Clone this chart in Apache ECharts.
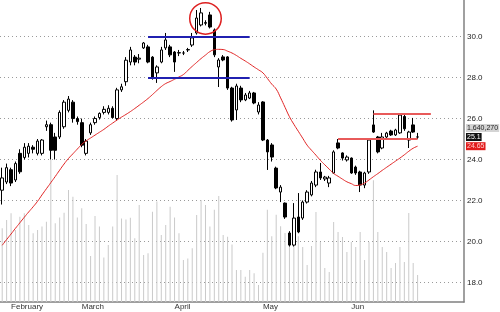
<!DOCTYPE html>
<html><head><meta charset="utf-8">
<script src="https://cdn.jsdelivr.net/npm/echarts@6/dist/echarts.min.js"></script>
<style>html,body{margin:0;padding:0;background:#fff}#c{width:500px;height:312px}</style>
</head><body><div id="c"></div>
<script>
// ---- data ----
const opens=[22.5,22.9,23.5,23.0,24.3,24.1,24.3,24.6,24.3,24.3,25.6,25.7,25.1,25.1,25.6,26.4,26.8,26.0,25.8,24.3,25.3,25.8,26.05,26.3,26.3,26.5,26.0,27.4,27.8,
28.76,29.0,28.9,29.45,29.5,29.0,28.23,28.76,29.45,29.5,29.25,29.2,29.2,29.35,29.59,30.18,30.57,30.65,31.06,30.33,28.52,29.01,29.01,27.49,26.42,27.49,26.91,27.0,27.25,26.32,26.81,24.95,24.71,23.58,22.41,21.87,20.41,19.82,21.19,21.14,21.92,22.27,22.75,23.39,23.05,22.85,23.34,24.81,24.32,23.98,24.07,23.63,23.39,22.75,23.39,25.69,25.1,24.56,25.1,25.39,25.2,25.3,26.1,24.95,25.69,25.1];
const closes=[23.1,23.6,22.85,23.8,23.4,24.6,24.65,24.5,24.9,24.95,25.7,24.45,24.45,26.3,26.8,26.95,26.0,25.85,24.7,24.9,25.7,26.0,26.25,26.45,26.5,26.05,27.4,27.55,28.85,
29.35,28.76,28.95,29.69,28.76,28.03,28.52,29.35,29.84,29.11,28.76,29.22,29.2,29.37,29.94,30.91,31.16,30.69,30.47,29.11,28.86,28.86,27.49,25.93,27.59,26.91,27.15,27.25,26.76,26.66,24.95,24.37,24.12,22.61,22.65,21.19,19.82,21.14,20.46,21.92,22.41,22.85,23.39,23.1,23.14,23.1,24.37,24.56,24.07,24.12,23.34,23.34,22.75,23.34,24.95,25.34,24.37,25.1,25.29,25.2,25.44,26.17,25.5,25.34,25.34,25.1];
const lows=[21.8,22.8,22.7,22.9,23.3,24.0,24.1,24.3,24.2,24.2,25.4,24.0,24.0,25.0,25.5,26.3,25.8,25.7,24.6,24.2,25.2,25.7,25.95,26.2,26.2,26.0,25.9,27.3,27.6,
28.6,28.6,28.7,29.4,28.7,27.9,27.74,28.7,29.35,29.0,28.28,29.05,29.1,29.25,29.5,30.1,30.5,30.55,30.4,29.0,27.54,28.8,27.4,25.85,25.93,26.8,26.85,26.95,26.7,26.2,24.9,23.49,23.9,22.55,21.92,21.1,19.75,19.75,20.4,21.05,21.85,22.2,22.65,23.0,22.95,22.65,23.3,24.5,23.95,23.9,23.3,23.25,22.41,22.6,23.3,25.3,24.3,24.5,25.05,25.15,25.15,25.25,25.4,24.56,25.3,25.0];
const highs=[23.6,23.8,23.6,23.9,24.5,24.8,24.8,24.7,25.0,25.0,25.9,25.8,25.3,26.4,26.9,27.1,26.9,26.1,26.0,25.0,25.8,26.1,26.3,26.6,26.65,26.6,27.5,27.7,29.0,
29.5,29.1,29.15,29.74,29.6,29.05,28.6,29.5,30.18,29.6,29.3,29.35,29.3,29.45,30.18,31.3,31.4,30.8,31.21,30.4,28.95,29.1,29.05,27.55,27.7,27.6,27.25,27.35,27.3,26.8,26.85,25.0,24.8,23.65,22.75,21.9,20.5,21.87,22.36,22.0,22.5,22.95,23.5,23.83,23.2,23.2,24.45,25.0,24.35,24.2,24.1,23.7,23.45,23.4,25.0,26.4,25.15,25.3,25.35,25.45,25.5,26.25,26.2,25.4,26.03,25.3];
const movingAvg=[19.81,20.09,20.36,20.64,20.91,21.18,21.44,21.69,21.96,22.27,
22.57,22.87,23.17,23.48,23.78,24.05,24.28,24.51,24.74,24.91,
25.05,25.19,25.33,25.47,25.63,25.78,25.93,26.07,26.20,26.34,
26.49,26.65,26.81,26.98,27.17,27.37,27.56,27.71,27.81,27.92,
28.03,28.15,28.35,28.55,28.74,28.93,29.10,29.27,29.36,29.38,
29.37,29.29,29.20,29.08,28.94,28.81,28.67,28.52,28.38,28.23,
27.96,27.68,27.44,27.01,26.55,26.09,25.72,25.38,25.04,24.70,
24.45,24.21,23.96,23.74,23.53,23.32,23.18,23.04,22.91,22.82,
22.73,22.76,22.85,23.00,23.16,23.31,23.47,23.62,23.77,23.92,
24.07,24.23,24.40,24.55,24.65];
// volume in millions of shares
const volumes=[4.48,4.98,5.39,4.37,5.18,5.39,4.68,4.17,4.37,4.58,4.88,8.63,4.78,5.14,5.43,6.80,6.40,5.14,5.69,4.74,
2.80,5.22,4.58,2.70,3.46,4.58,7.72,5.08,5.02,5.12,3.87,5.89,2.86,2.96,5.49,6.10,4.07,4.68,5.79,5.14,
4.17,2.55,2.65,3.26,5.29,6.20,5.89,4.58,5.60,6.44,4.07,3.97,3.50,1.94,1.94,1.54,1.94,1.74,1.03,3.00,
5.60,4.00,5.30,4.60,4.20,3.90,4.60,4.00,3.34,2.25,3.40,5.47,3.65,2.07,1.82,4.86,4.25,3.95,3.04,3.65,
3.34,4.25,2.55,3.65,7.40,4.25,3.34,3.04,2.07,2.37,3.34,2.43,5.41,2.37,1.64027];
const monthLabels=['February','March','April','May','Jun'];
const monthIdx=[2,18,39,59,79];
// annotation levels: [fromIndex, toIndex, price]
const blueLevels=[[33,56,30.0],[33,56,28.0]];
const redLevels=[[84,97,26.21],[76,94,25.0]];
const circleAt=[46,30.89];

const slotCount=105;
const categories=[];for(let i=0;i<slotCount;i++)categories.push(String(i));
const candle=opens.map((o,i)=>[o,closes[i],lows[i],highs[i]]);
const isMonth=i=>monthIdx.indexOf(i)>=0;
const FONT='Liberation Sans';

const mk=(lv,color)=>lv.map(l=>[{coord:[categories[l[0]],l[2]],lineStyle:{color:color,width:2,type:'solid'}},{coord:[categories[l[1]],l[2]]}]);

const chart=echarts.init(document.getElementById('c'));
chart.setOption({
  animation:false,
  grid:{left:0,right:36,top:0,bottom:10},
  xAxis:{type:'category',data:categories,boundaryGap:true,
    axisLine:{lineStyle:{color:'#808080',width:1.5}},
    axisTick:{alignWithLabel:true,interval:(i)=>isMonth(i),length:3,lineStyle:{color:'#333'}},
    axisLabel:{interval:(i)=>isMonth(i),formatter:(v,i)=>{const k=monthIdx.indexOf(i);return k>=0?monthLabels[k]:'';},
      align:'left',margin:1,fontSize:8,color:'#333',fontFamily:FONT},
    splitLine:{show:false}},
  yAxis:[{type:'value',position:'right',min:17.04,max:31.79,splitNumber:7,
    axisLine:{show:true,lineStyle:{color:'#808080',width:1.5}},
    axisTick:{show:false},
    axisLabel:{showMinLabel:false,showMaxLabel:false,formatter:v=>v.toFixed(1),fontSize:8,color:'#222',margin:3,fontFamily:FONT},
    splitLine:{show:true,showMinLine:false,showMaxLine:false,lineStyle:{color:'#9a9a9a',type:[1,3],width:1}}},
   {type:'value',min:0,max:18.35,show:false}],
  series:[
    {type:'bar',yAxisIndex:1,data:volumes,barWidth:1,itemStyle:{color:'#cacaca'},silent:true,z:1},
    {type:'candlestick',data:candle,barWidth:3,
     itemStyle:{color:'#ffffff',color0:'#000000',borderColor:'#000000',borderColor0:'#000000',borderWidth:1},z:3,
     markLine:{symbol:['none','none'],silent:true,label:{show:false},animation:false,
       data:mk(blueLevels,'#2020b0').concat(mk(redLevels,'#e85a5a'))}},
    {type:'line',data:movingAvg,smooth:true,symbol:'none',lineStyle:{color:'#e02424',width:1},z:4}
  ]
});

const px=(i,v)=>chart.convertToPixel({seriesIndex:1},[categories[i],v]);
const last=closes.length-1;
const c0=px(circleAt[0],circleAt[1]);
const c1=px(circleAt[0],circleAt[1]+0.77);
const yClose=px(last,closes[last])[1];
const yMa=px(last,movingAvg[last])[1];
const axisX=500-36;
const volText=Math.round(volumes[last]*1e6).toLocaleString('en-US');
const tag=(text,y,bg,fg)=>({type:'text',z:100,style:{text:text,x:axisX+2,y:y,fill:fg,backgroundColor:bg,
  padding:[1,1,0,1],font:'7px '+FONT,verticalAlign:'middle',align:'left'}});
chart.setOption({graphic:[
  {type:'circle',z:100,shape:{cx:c0[0],cy:c0[1],r:Math.abs(c0[1]-c1[1])},style:{fill:'none',stroke:'#dd2020',lineWidth:1.5}},
  tag(volText,yClose-9,'#d4d4d4','#222'),
  tag(String(closes[last]),yClose,'#111','#fff'),
  tag(String(movingAvg[last]),yMa,'#e21d1d','#ffd0d0')
]});
</script></body></html>
